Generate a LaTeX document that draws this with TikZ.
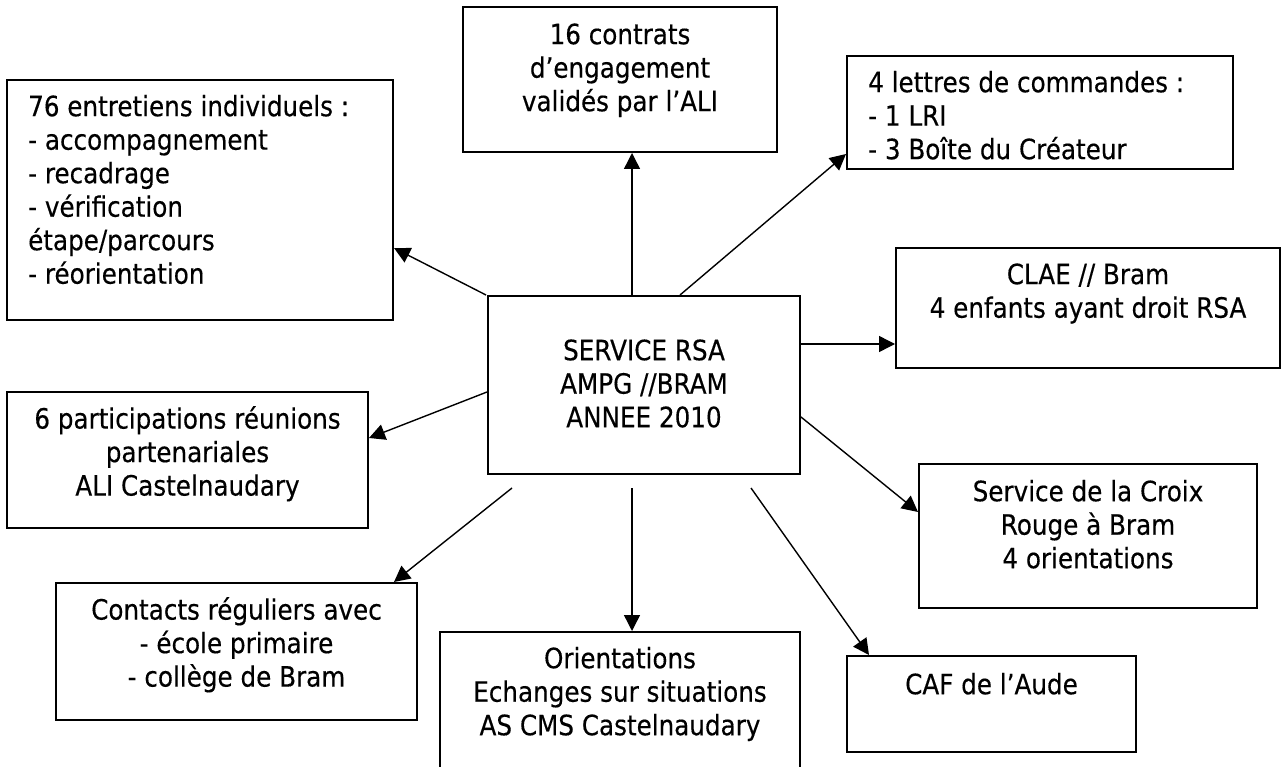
\documentclass[tikz,border=0pt]{standalone}
\usepackage{fontspec}
\setmainfont{DejaVu Sans}[FakeStretch=0.88,FakeBold=0.35]
\usetikzlibrary{arrows.meta,calc}
\begin{document}
\begin{tikzpicture}[x=1pt,y=-1pt,
  box/.style={draw=black,line width=2pt,inner sep=0pt,rectangle},
  txt/.style={inner sep=0pt,font=\fontsize{28}{33.5}\selectfont},
  arr/.style={draw=black,line width=1.4pt,-{Triangle[length=16pt,width=16pt]}}]
\useasboundingbox[fill=white] (0,0) rectangle (1281,767);
% boxes (centre, size)
\node[box,minimum width=386pt,minimum height=240pt] (A) at (200,200) {};
\node[box,minimum width=314pt,minimum height=145pt] (B) at (620,79.5) {};
\node[box,minimum width=386pt,minimum height=113pt] (C) at (1040,112.5) {};
\node[box,minimum width=384pt,minimum height=120pt] (D) at (1088,308) {};
\node[box,minimum width=312pt,minimum height=178pt] (ctr) at (644,385) {};
\node[box,minimum width=361pt,minimum height=136pt] (E) at (187.5,460) {};
\node[box,minimum width=361pt,minimum height=137pt] (F) at (236.5,651.5) {};
\node[box,minimum width=360pt,minimum height=148pt] (G) at (620,706) {};
\node[box,minimum width=338pt,minimum height=144pt] (H) at (1088,536) {};
\node[box,minimum width=289pt,minimum height=96pt] (I) at (991.5,704) {};
% texts
\node[txt,anchor=north west,align=left] (At) at (28,94) {\rule{0pt}{22pt}76 entretiens individuels :\\- accompagnement\\- recadrage\\- vérification\\étape/parcours\\- réorientation};
\node[txt,anchor=north,align=center] (Bt) at (620,22) {\rule{0pt}{22pt}16 contrats\\d’engagement\\validés par l’ALI};
\node[txt,anchor=north west,align=left] (Ct) at (868,70) {\rule{0pt}{22pt}4 lettres de commandes :\\- 1 LRI\\- 3 Boîte du Créateur};
\node[txt,anchor=north,align=center] (Dt) at (1088,262) {\rule{0pt}{22pt}CLAE // Bram\\4 enfants ayant droit RSA};
\node[txt,anchor=north,align=center] (ctrt) at (644,338) {\rule{0pt}{22pt}SERVICE RSA\\AMPG //BRAM\\ANNEE 2010};
\node[txt,anchor=north,align=center] (Et) at (187.5,406) {\rule{0pt}{22pt}6 participations réunions\\partenariales\\ALI Castelnaudary};
\node[txt,anchor=north,align=center] (Ft) at (236.5,597) {\rule{0pt}{22pt}Contacts réguliers avec\\- école primaire\\- collège de Bram};
\node[txt,anchor=north,align=center] (Gt) at (620,646) {\rule{0pt}{22pt}Orientations\\Echanges sur situations\\AS CMS Castelnaudary};
\node[txt,anchor=north,align=center] (Ht) at (1088,479) {\rule{0pt}{22pt}Service de la Croix\\Rouge à Bram\\4 orientations};
\node[txt,anchor=north,align=center] (It) at (991.5,672) {\rule{0pt}{22pt}CAF de l’Aude};
% free starting points below the centre box
\coordinate (s6) at (751,488);
\coordinate (s7) at (632,488);
\coordinate (s8) at (512,488);
% connectors
\draw[arr] ([xshift=-12pt]ctr.north) -- ([xshift=12pt]B.south);
\draw[arr] ([xshift=36pt]ctr.north) -- ([yshift=16pt]C.south west);
\draw[arr] ([xshift=-1pt]ctr.north west) -- ([yshift=-48pt]A.east);
\draw[arr] ([yshift=41pt]ctr.east) -- ([yshift=-36pt]D.west);
\draw[arr] ([yshift=-32pt]ctr.east) -- ([yshift=24pt]H.west);
\draw[arr] (s6) -- ([xshift=23pt]I.north west);
\draw[arr] (s7) -- ([xshift=12pt]G.north);
\draw[arr] (s8) -- ([xshift=-24pt]F.north east);
\draw[arr] ([yshift=-7pt]ctr.west) -- ([yshift=22pt]E.east);
\end{tikzpicture}
\end{document}
